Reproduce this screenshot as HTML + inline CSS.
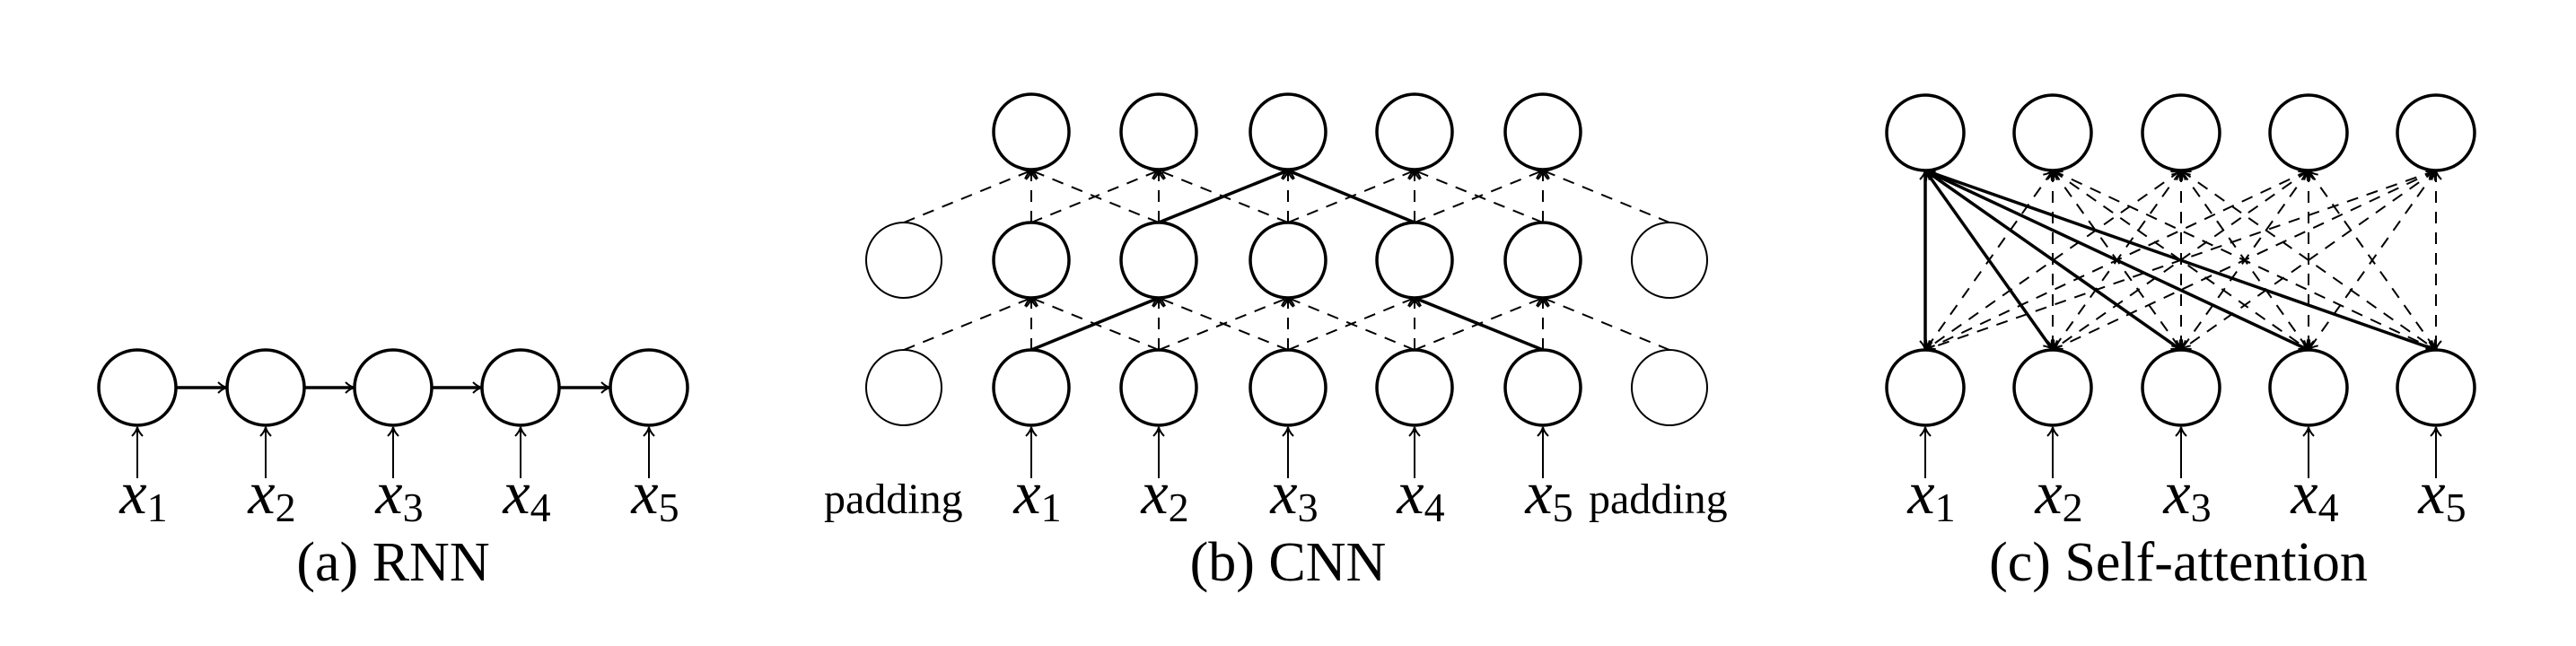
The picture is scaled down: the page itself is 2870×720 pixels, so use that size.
<!DOCTYPE html>
<html><head><meta charset="utf-8"><style>
html,body{margin:0;padding:0;background:#fff;}
svg{display:block;}
text{font-family:"Liberation Serif",serif;fill:#000;}
.m{font-style:italic;font-size:68px;}
.s{font-size:46px;font-style:normal;}
.cap{font-size:62px;}
.pad{font-size:48px;}
</style></head><body>
<svg width="2870" height="720" viewBox="0 0 2870 720" xmlns="http://www.w3.org/2000/svg">
<defs>
<marker id="a" markerWidth="14" markerHeight="14" refX="12" refY="7" orient="auto-start-reverse" markerUnits="userSpaceOnUse">
<path d="M2,1 Q7,6 12,7 Q7,8 2,13" fill="none" stroke="#000" stroke-width="2"/>
</marker>
</defs>
<g fill="none" stroke="#000">
<!-- RNN -->
<g stroke-width="3.5">
<ellipse cx="153" cy="432" rx="43" ry="42"/><ellipse cx="296" cy="432" rx="43" ry="42"/><ellipse cx="438" cy="432" rx="43" ry="42"/><ellipse cx="580" cy="432" rx="43" ry="42"/><ellipse cx="723" cy="432" rx="43" ry="42"/>
<line x1="196" y1="432" x2="253" y2="432" marker-end="url(#a)"/>
<line x1="339" y1="432" x2="395" y2="432" marker-end="url(#a)"/>
<line x1="481" y1="432" x2="537" y2="432" marker-end="url(#a)"/>
<line x1="623" y1="432" x2="680" y2="432" marker-end="url(#a)"/>
</g>
<g stroke-width="2">
<line x1="153" y1="533" x2="153" y2="476" marker-end="url(#a)"/><line x1="296" y1="533" x2="296" y2="476" marker-end="url(#a)"/><line x1="438" y1="533" x2="438" y2="476" marker-end="url(#a)"/><line x1="580" y1="533" x2="580" y2="476" marker-end="url(#a)"/><line x1="723" y1="533" x2="723" y2="476" marker-end="url(#a)"/>
</g>
<!-- CNN -->
<g stroke-width="3.5">
<ellipse cx="1149" cy="147" rx="42" ry="42"/><ellipse cx="1291" cy="147" rx="42" ry="42"/><ellipse cx="1435" cy="147" rx="42" ry="42"/><ellipse cx="1576" cy="147" rx="42" ry="42"/><ellipse cx="1719" cy="147" rx="42" ry="42"/>
<ellipse cx="1149" cy="290" rx="42" ry="42"/><ellipse cx="1291" cy="290" rx="42" ry="42"/><ellipse cx="1435" cy="290" rx="42" ry="42"/><ellipse cx="1576" cy="290" rx="42" ry="42"/><ellipse cx="1719" cy="290" rx="42" ry="42"/>
<ellipse cx="1149" cy="432" rx="42" ry="42"/><ellipse cx="1291" cy="432" rx="42" ry="42"/><ellipse cx="1435" cy="432" rx="42" ry="42"/><ellipse cx="1576" cy="432" rx="42" ry="42"/><ellipse cx="1719" cy="432" rx="42" ry="42"/>
</g>
<g stroke-width="2">
<ellipse cx="1007" cy="290" rx="42" ry="42"/><ellipse cx="1860" cy="290" rx="42" ry="42"/>
<ellipse cx="1007" cy="432" rx="42" ry="42"/><ellipse cx="1860" cy="432" rx="42" ry="42"/>
</g>
<g stroke-width="2" stroke-dasharray="13,10">
<!-- mid -> top -->
<line x1="1007" y1="248" x2="1149" y2="190" marker-end="url(#a)"/><line x1="1149" y1="248" x2="1149" y2="190" marker-end="url(#a)"/><line x1="1291" y1="248" x2="1149" y2="190" marker-end="url(#a)"/>
<line x1="1149" y1="248" x2="1291" y2="190" marker-end="url(#a)"/><line x1="1291" y1="248" x2="1291" y2="190" marker-end="url(#a)"/><line x1="1435" y1="248" x2="1291" y2="190" marker-end="url(#a)"/>
<line x1="1435" y1="248" x2="1435" y2="190" marker-end="url(#a)"/>
<line x1="1435" y1="248" x2="1576" y2="190" marker-end="url(#a)"/><line x1="1576" y1="248" x2="1576" y2="190" marker-end="url(#a)"/><line x1="1719" y1="248" x2="1576" y2="190" marker-end="url(#a)"/>
<line x1="1576" y1="248" x2="1719" y2="190" marker-end="url(#a)"/><line x1="1719" y1="248" x2="1719" y2="190" marker-end="url(#a)"/><line x1="1860" y1="248" x2="1719" y2="190" marker-end="url(#a)"/>
<!-- bottom -> mid -->
<line x1="1007" y1="390" x2="1149" y2="332" marker-end="url(#a)"/><line x1="1149" y1="390" x2="1149" y2="332" marker-end="url(#a)"/><line x1="1291" y1="390" x2="1149" y2="332" marker-end="url(#a)"/>
<line x1="1291" y1="390" x2="1291" y2="332" marker-end="url(#a)"/><line x1="1435" y1="390" x2="1291" y2="332" marker-end="url(#a)"/>
<line x1="1291" y1="390" x2="1435" y2="332" marker-end="url(#a)"/><line x1="1435" y1="390" x2="1435" y2="332" marker-end="url(#a)"/><line x1="1576" y1="390" x2="1435" y2="332" marker-end="url(#a)"/>
<line x1="1435" y1="390" x2="1576" y2="332" marker-end="url(#a)"/><line x1="1576" y1="390" x2="1576" y2="332" marker-end="url(#a)"/>
<line x1="1576" y1="390" x2="1719" y2="332" marker-end="url(#a)"/><line x1="1719" y1="390" x2="1719" y2="332" marker-end="url(#a)"/><line x1="1860" y1="390" x2="1719" y2="332" marker-end="url(#a)"/>
</g>
<g stroke-width="3.5">
<line x1="1291" y1="248" x2="1435" y2="190" marker-end="url(#a)"/><line x1="1576" y1="248" x2="1435" y2="190" marker-end="url(#a)"/>
<line x1="1149" y1="390" x2="1291" y2="332" marker-end="url(#a)"/><line x1="1719" y1="390" x2="1576" y2="332" marker-end="url(#a)"/>
</g>
<g stroke-width="2">
<line x1="1149" y1="533" x2="1149" y2="476" marker-end="url(#a)"/><line x1="1291" y1="533" x2="1291" y2="476" marker-end="url(#a)"/><line x1="1435" y1="533" x2="1435" y2="476" marker-end="url(#a)"/><line x1="1576" y1="533" x2="1576" y2="476" marker-end="url(#a)"/><line x1="1719" y1="533" x2="1719" y2="476" marker-end="url(#a)"/>
</g>
<!-- Self-attention -->
<g stroke-width="3.5">
<ellipse cx="2145" cy="148" rx="43" ry="42"/><ellipse cx="2287" cy="148" rx="43" ry="42"/><ellipse cx="2430" cy="148" rx="43" ry="42"/><ellipse cx="2572" cy="148" rx="43" ry="42"/><ellipse cx="2714" cy="148" rx="43" ry="42"/>
<ellipse cx="2145" cy="432" rx="43" ry="42"/><ellipse cx="2287" cy="432" rx="43" ry="42"/><ellipse cx="2430" cy="432" rx="43" ry="42"/><ellipse cx="2572" cy="432" rx="43" ry="42"/><ellipse cx="2714" cy="432" rx="43" ry="42"/>
</g>
<g stroke-width="2" stroke-dasharray="13,10" marker-start="url(#a)" marker-end="url(#a)">
<line x1="2287" y1="190" x2="2145" y2="390"/><line x1="2287" y1="190" x2="2287" y2="390"/><line x1="2287" y1="190" x2="2430" y2="390"/><line x1="2287" y1="190" x2="2572" y2="390"/><line x1="2287" y1="190" x2="2714" y2="390"/>
<line x1="2430" y1="190" x2="2145" y2="390"/><line x1="2430" y1="190" x2="2287" y2="390"/><line x1="2430" y1="190" x2="2430" y2="390"/><line x1="2430" y1="190" x2="2572" y2="390"/><line x1="2430" y1="190" x2="2714" y2="390"/>
<line x1="2572" y1="190" x2="2145" y2="390"/><line x1="2572" y1="190" x2="2287" y2="390"/><line x1="2572" y1="190" x2="2430" y2="390"/><line x1="2572" y1="190" x2="2572" y2="390"/><line x1="2572" y1="190" x2="2714" y2="390"/>
<line x1="2714" y1="190" x2="2145" y2="390"/><line x1="2714" y1="190" x2="2287" y2="390"/><line x1="2714" y1="190" x2="2430" y2="390"/><line x1="2714" y1="190" x2="2572" y2="390"/><line x1="2714" y1="190" x2="2714" y2="390"/>
</g>
<g stroke-width="3.5" marker-start="url(#a)" marker-end="url(#a)">
<line x1="2145" y1="190" x2="2145" y2="390"/><line x1="2145" y1="190" x2="2287" y2="390"/><line x1="2145" y1="190" x2="2430" y2="390"/><line x1="2145" y1="190" x2="2572" y2="390"/><line x1="2145" y1="190" x2="2714" y2="390"/>
</g>
<g stroke-width="2">
<line x1="2145" y1="533" x2="2145" y2="476" marker-end="url(#a)"/><line x1="2287" y1="533" x2="2287" y2="476" marker-end="url(#a)"/><line x1="2430" y1="533" x2="2430" y2="476" marker-end="url(#a)"/><line x1="2572" y1="533" x2="2572" y2="476" marker-end="url(#a)"/><line x1="2714" y1="533" x2="2714" y2="476" marker-end="url(#a)"/>
</g>
</g>
<!-- labels -->
<g class="m" text-anchor="middle">
<text x="160" y="572">x<tspan class="s" dy="9">1</tspan></text>
<text x="303" y="572">x<tspan class="s" dy="9">2</tspan></text>
<text x="445" y="572">x<tspan class="s" dy="9">3</tspan></text>
<text x="587" y="572">x<tspan class="s" dy="9">4</tspan></text>
<text x="730" y="572">x<tspan class="s" dy="9">5</tspan></text>
<text x="1156" y="572">x<tspan class="s" dy="9">1</tspan></text>
<text x="1298" y="572">x<tspan class="s" dy="9">2</tspan></text>
<text x="1442" y="572">x<tspan class="s" dy="9">3</tspan></text>
<text x="1583" y="572">x<tspan class="s" dy="9">4</tspan></text>
<text x="1726" y="572">x<tspan class="s" dy="9">5</tspan></text>
<text x="2152" y="572">x<tspan class="s" dy="9">1</tspan></text>
<text x="2294" y="572">x<tspan class="s" dy="9">2</tspan></text>
<text x="2437" y="572">x<tspan class="s" dy="9">3</tspan></text>
<text x="2579" y="572">x<tspan class="s" dy="9">4</tspan></text>
<text x="2721" y="572">x<tspan class="s" dy="9">5</tspan></text>
</g>
<text class="pad" x="918" y="572">padding</text>
<text class="pad" x="1770" y="572">padding</text>
<text class="cap" x="438" y="647" text-anchor="middle">(a) RNN</text>
<text class="cap" x="1435" y="647" text-anchor="middle">(b) CNN</text>
<text class="cap" x="2427" y="647" text-anchor="middle">(c) Self-attention</text>
</svg>
</body></html>
